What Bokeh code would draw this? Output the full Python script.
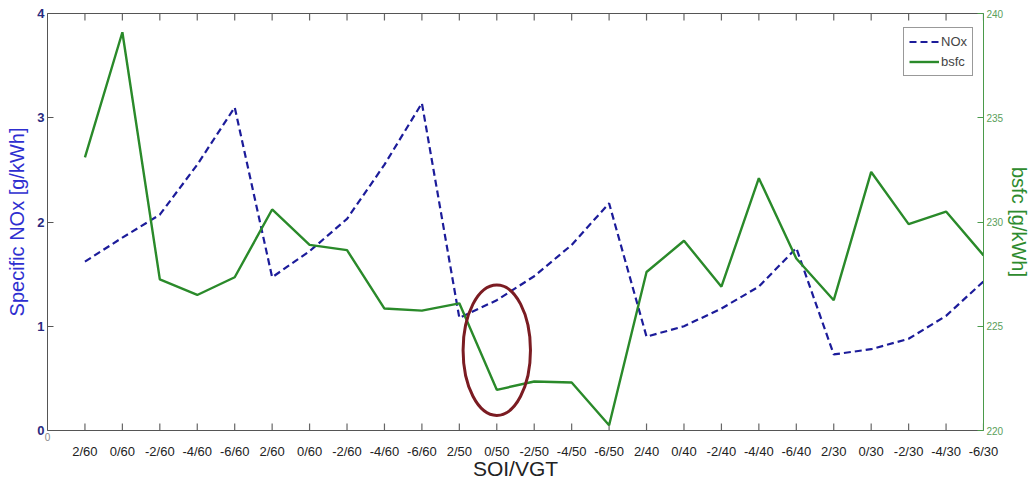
from bokeh.plotting import figure
from bokeh.models import (Range1d, LinearAxis, FixedTicker, Legend, LegendItem)
from bokeh.embed import file_html
from bokeh.resources import INLINE

categories = ["2/60", "0/60", "-2/60", "-4/60", "-6/60",
              "2/60", "0/60", "-2/60", "-4/60", "-6/60",
              "2/50", "0/50", "-2/50", "-4/50", "-6/50",
              "2/40", "0/40", "-2/40", "-4/40", "-6/40",
              "2/30", "0/30", "-2/30", "-4/30", "-6/30"]
nox = [1.62, 1.85, 2.07, 2.55, 3.10,
       1.47, 1.72, 2.03, 2.55, 3.14,
       1.08, 1.25, 1.48, 1.78, 2.18,
       0.90, 1.00, 1.17, 1.38, 1.75,
       0.73, 0.78, 0.88, 1.10, 1.43]
bsfc = [233.1, 239.1, 227.25, 226.5, 227.35,
        230.6, 228.9, 228.65, 225.85, 225.75,
        226.1, 221.95, 222.35, 222.3, 220.25,
        227.6, 229.1, 226.9, 232.1, 228.25,
        226.25, 232.4, 229.9, 230.5, 228.4]
left_ticks = [0, 1, 2, 3, 4]
right_ticks = [220, 225, 230, 235, 240]

xs = list(range(1, len(categories) + 1))
FONT = "Liberation Sans"
BLUE = "#1c1c9a"
GREEN = "#2a8a2a"
AX = "#555555"

FRAME_H = 420
Y0, Y1 = left_ticks[0], left_ticks[-1]
px = (Y1 - Y0) / FRAME_H  # data units per pixel on left axis

p = figure(width=1033, height=482, output_backend="svg", toolbar_location=None,
           x_range=Range1d(0, len(categories)), y_range=Range1d(Y0, Y1),
           min_border_left=47, min_border_right=47, min_border_top=13,
           min_border_bottom=49)
p.outline_line_color = None
p.grid.visible = False
p.background_fill_color = "white"
p.border_fill_color = "white"

p.extra_y_ranges = {"bsfc": Range1d(right_ticks[0], right_ticks[-1])}

# bottom axis 1: axis line + small grey "0" at the origin
xa = p.xaxis[0]
xa.ticker = FixedTicker(ticks=[0])
xa.major_tick_in = 0
xa.major_tick_out = 0
xa.minor_tick_line_color = None
xa.axis_line_color = AX
xa.major_tick_line_color = None
xa.major_label_text_font = FONT
xa.major_label_text_font_size = "10px"
xa.major_label_text_color = "#888888"
xa.major_label_text_align = "left"
xa.major_label_standoff = 2

# bottom axis 2: category labels and axis title
xb = LinearAxis(ticker=FixedTicker(ticks=xs),
                major_label_overrides={i: c for i, c in zip(xs, categories)},
                major_tick_in=0, major_tick_out=0, minor_tick_line_color=None,
                axis_line_color=None, major_tick_line_color=None,
                major_label_text_font=FONT, major_label_text_font_size="13px",
                major_label_text_color="#222222", major_label_standoff=0,
                axis_label="SOI/VGT", axis_label_text_font=FONT,
                axis_label_text_font_size="21px", axis_label_text_font_style="normal",
                axis_label_text_color="#222222", axis_label_standoff=-5)
p.add_layout(xb, "below")

# top border
top = LinearAxis(ticker=FixedTicker(ticks=[]), major_tick_in=0, major_tick_out=0,
                 minor_tick_line_color=None, axis_line_color=AX)
p.add_layout(top, "above")

# inward tick marks at the categories (bottom and top)
n = len(xs)
p.segment(x0=xs, y0=[Y0] * n, x1=xs, y1=[Y0 + 7 * px] * n, line_color="#666666", line_width=1.2)
p.segment(x0=xs, y0=[Y1] * n, x1=xs, y1=[Y1 - 7 * px] * n, line_color="#666666", line_width=1.2)

# left axis
ya = p.yaxis[0]
ya.ticker = FixedTicker(ticks=left_ticks)
ya.major_tick_in = 6
ya.major_tick_out = 0
ya.minor_tick_line_color = None
ya.axis_line_color = AX
ya.major_tick_line_color = AX
ya.major_label_text_font = FONT
ya.major_label_text_font_size = "13px"
ya.major_label_text_font_style = "bold"
ya.major_label_text_color = "#2a2a80"
ya.major_label_standoff = 3
ya.axis_label = "Specific NOx [g/kWh]"
ya.axis_label_text_font = FONT
ya.axis_label_text_font_size = "20px"
ya.axis_label_text_font_style = "normal"
ya.axis_label_text_color = "#2e2ed0"
ya.axis_label_standoff = 6

# right axis
ra = LinearAxis(y_range_name="bsfc", ticker=FixedTicker(ticks=right_ticks),
                major_tick_in=6, major_tick_out=0, minor_tick_line_color=None,
                axis_line_color="#4a9a4a", major_tick_line_color="#4a9a4a",
                major_label_text_font=FONT, major_label_text_font_size="10px",
                major_label_text_color="#5aa05a", major_label_standoff=3,
                axis_label="bsfc [g/kWh]", axis_label_text_font=FONT,
                axis_label_text_font_size="20px", axis_label_text_font_style="normal",
                axis_label_text_color="#2e8b2e", axis_label_standoff=2)
p.add_layout(ra, "right")

r_nox = p.line(xs, nox, line_color=BLUE, line_width=2.2, line_dash="7 4")
r_bsfc = p.line(xs, bsfc, y_range_name="bsfc", line_color=GREEN, line_width=2.4)

# highlight ellipse around the 0/50 point
hi = categories.index("0/50", 10) + 1
p.ellipse(x=[hi], y=[0.77], width=1.8, height=1.25, fill_color=None,
          line_color="#7b1c22", line_width=3)

legend = Legend(items=[LegendItem(label="NOx", renderers=[r_nox]),
                       LegendItem(label="bsfc", renderers=[r_bsfc])],
                location=(856, 354), glyph_width=30, glyph_height=17,
                label_text_font=FONT, label_text_font_size="13px",
                label_standoff=2, padding=5, spacing=3, margin=0,
                border_line_color="#333333", border_line_width=1,
                background_fill_alpha=1)
p.add_layout(legend, "center")

open("out.html", "w").write(file_html(p, INLINE))
